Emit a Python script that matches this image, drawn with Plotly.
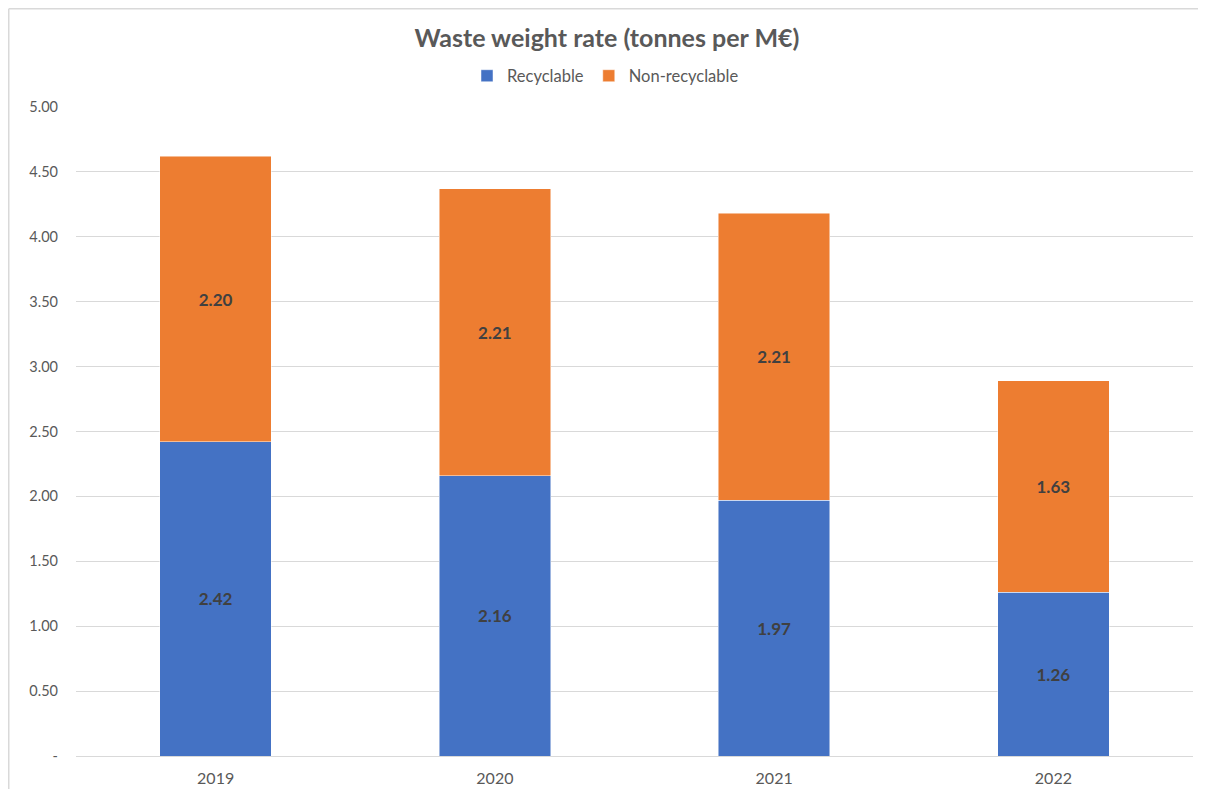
import plotly.graph_objects as go

years = ["2019", "2020", "2021", "2022"]
recyclable = [2.42, 2.16, 1.97, 1.26]
non_recyclable = [2.20, 2.21, 2.21, 1.63]
y_tick_vals = [0, 0.5, 1.0, 1.5, 2.0, 2.5, 3.0, 3.5, 4.0, 4.5, 5.0]
y_tick_text = ["-", "0.50", "1.00", "1.50", "2.00", "2.50", "3.00", "3.50", "4.00", "4.50", "5.00"]

FONT = "Lato, Open Sans, sans-serif"
OFF = 8  # page body margin
W, H = 1206 - OFF, 789 - OFF
L, R, T, B = 76 - OFF, 13, 107 - OFF, 33
PW, PH = W - L - R, H - T - B

fig = go.Figure()
fig.add_trace(go.Bar(
    x=years, y=recyclable, name="Recyclable",
    marker=dict(color="#4472C4", line=dict(color="rgba(255,255,255,0.6)", width=0.8)),
    text=[f"{v:.2f}" for v in recyclable], textposition="inside", insidetextanchor="middle",
    textfont=dict(family=FONT, size=17, color="#404040", weight="bold"),
))
fig.add_trace(go.Bar(
    x=years, y=non_recyclable, name="Non-recyclable",
    marker=dict(color="#ED7D31", line=dict(color="rgba(255,255,255,0.6)", width=0.8)),
    text=[f"{v:.2f}" for v in non_recyclable], textposition="inside", insidetextanchor="middle",
    textfont=dict(family=FONT, size=17, color="#404040", weight="bold"),
))

border = dict(color="#D9D9D9", width=1.5)
fig.update_layout(
    barmode="stack", bargap=0.6,
    width=W, height=H,
    margin=dict(l=L, r=R, t=T, b=B, autoexpand=False),
    paper_bgcolor="white", plot_bgcolor="white",
    font=dict(family=FONT, color="#595959"),
    title=dict(text="<b>Waste weight rate (tonnes per M€)</b>", x=0.5, xanchor="center",
               y=1 - (38 - OFF) / H, yanchor="middle", font=dict(family=FONT, size=25, color="#595959")),
    legend=dict(orientation="h", x=(605.5 - 76) / PW, xanchor="center", y=1 + (107 - 76) / PH, yanchor="middle",
                font=dict(family=FONT, size=16.5, color="#595959"), traceorder="normal",
                itemwidth=30),
    xaxis=dict(showgrid=False, showline=True, linecolor="#D9D9D9", linewidth=1,
               tickfont=dict(family=FONT, size=16, color="#595959"), ticks="",
               ticklabelstandoff=8, automargin=False),
    yaxis=dict(range=[0, 5.0], tickvals=y_tick_vals, ticktext=y_tick_text,
               showgrid=True, gridcolor="#D9D9D9", gridwidth=1, zeroline=False,
               tickfont=dict(family=FONT, size=14.5, color="#595959"), ticks="",
               ticklabelstandoff=17, automargin=False),
    uniformtext=dict(minsize=10, mode="show"),
    shapes=[
        dict(type="line", xref="paper", yref="paper",
             x0=(0.75 - L) / PW, x1=(0.75 - L) / PW, y0=-(B + 5) / PH, y1=(PH + T - 0.75) / PH,
             line=border, layer="below"),
        dict(type="line", xref="paper", yref="paper",
             x0=(0.75 - L) / PW, x1=(W - L) / PW, y0=(PH + T - 0.75) / PH, y1=(PH + T - 0.75) / PH,
             line=border, layer="below"),
    ],
)

fig.write_html("out.html")
